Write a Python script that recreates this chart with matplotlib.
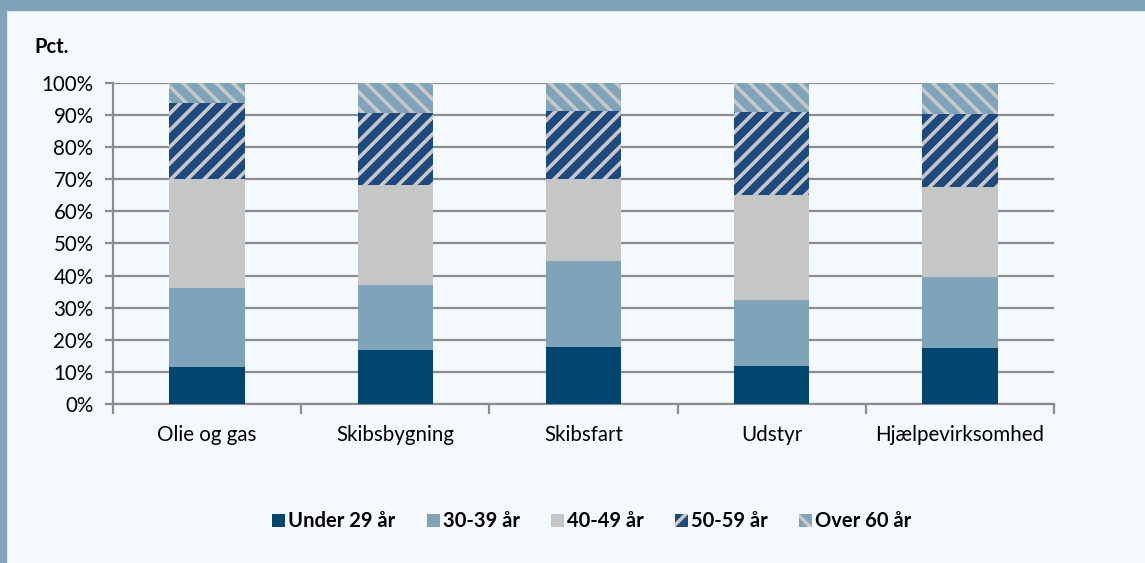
import numpy as np
import matplotlib
matplotlib.use("Agg")
import matplotlib.pyplot as plt
from matplotlib.patches import Rectangle
from matplotlib.ticker import PercentFormatter

# data (share of employees, pct.)
categories = ["Olie og gas", "Skibsbygning", "Skibsfart", "Udstyr", "Hjælpevirksomhed"]
age_groups = ["Under 29 år", "30-39 år", "40-49 år", "50-59 år", "Over 60 år"]
under_29 = [11.5, 16.8, 17.8, 11.9, 17.4]
age_30_39 = [24.6, 20.3, 26.7, 20.5, 22.2]
age_40_49 = [34.0, 31.1, 25.6, 32.8, 28.1]
age_50_59 = [23.7, 22.5, 21.2, 25.9, 22.7]
over_60 = [6.2, 9.3, 8.7, 8.9, 9.6]

BG = "#F4F9FD"
FRAME = "#7FA3B9"
GRID = "#8C8C8C"

plt.rcParams["font.family"] = ["Lato", "DejaVu Sans"]
plt.rcParams["hatch.linewidth"] = 2.6

fig = plt.figure(figsize=(11.45, 5.63), dpi=100, facecolor=BG)
ax = fig.add_axes([0.0987, 0.2824, 0.8218, 0.5702])
ax.set_facecolor(BG)

# frame bits of the original figure box
fig.patches.append(Rectangle((0, 0.982), 1, 0.018, transform=fig.transFigure,
                             color=FRAME, zorder=0))
fig.patches.append(Rectangle((0, 0), 0.005, 1, transform=fig.transFigure,
                             color=FRAME, zorder=0))

series = [under_29, age_30_39, age_40_49, age_50_59, over_60]
styles = [
    dict(color="#00466E"),
    dict(color="#7FA3B9"),
    dict(color="#C6C6C6"),
    dict(facecolor="#1D4A7E", edgecolor="#C8C8C8", hatch="//"),
    dict(facecolor="#7FA3B9", edgecolor="#C8C8C8", hatch="\\\\"),
]
x = np.arange(len(categories))
bottom = np.zeros(len(categories))
for name, vals, st in zip(age_groups, series, styles):
    vals = np.array(vals) / 100
    ax.bar(x, vals, 0.4, bottom=bottom, label=name, linewidth=0, zorder=3, **st)
    bottom += vals

ax.set_ylim(0, 1)
ax.set_xlim(-0.5, len(categories) - 0.5)
ax.set_yticks(np.linspace(0, 1, 11))
ax.yaxis.set_major_formatter(PercentFormatter(1.0, decimals=0))
ax.yaxis.grid(True, color=GRID, linewidth=1.6, zorder=1)
ax.set_axisbelow(True)

ax.set_xticks(x)
ax.set_xticklabels(categories)
ax.set_xticks(np.arange(-0.5, len(categories)), minor=True)
ax.tick_params(axis="x", which="major", length=0, pad=15, labelsize=14.8)
ax.tick_params(axis="x", which="minor", length=7, width=1.6, color=GRID, direction="out")
ax.tick_params(axis="y", length=6, width=1.6, color=GRID, labelsize=14.8, pad=8)

for s in ["top", "right"]:
    ax.spines[s].set_visible(False)
for s in ["left", "bottom"]:
    ax.spines[s].set_color(GRID)
    ax.spines[s].set_linewidth(1.6)

fig.text(0.030, 0.916, "Pct.", fontsize=14.5, fontweight="bold", va="center")

leg = fig.legend(loc="center", bbox_to_anchor=(0.517, 0.074), ncol=5, frameon=False,
                 prop={"weight": "bold", "size": 14.5}, handlelength=0.65,
                 handleheight=0.65, handletextpad=0.15, columnspacing=1.55)

fig.savefig("out.png", dpi=100, facecolor=BG)
